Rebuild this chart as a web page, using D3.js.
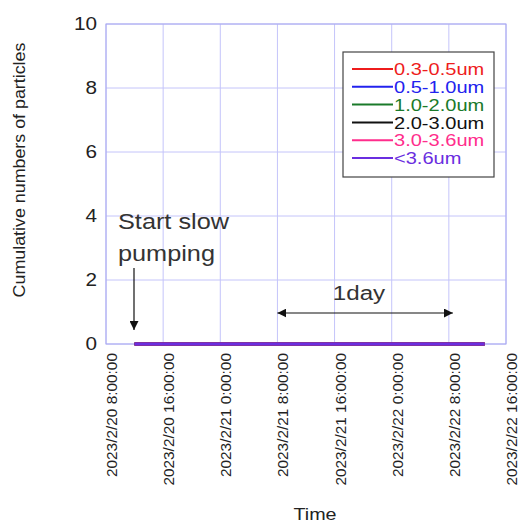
<!DOCTYPE html>
<html>
<head>
<meta charset="utf-8">
<script src="https://cdn.jsdelivr.net/npm/d3@7"></script>
<style>
  body { margin: 0; background: #fff; }
  text { font-family: "Liberation Sans", Arial, sans-serif; }
</style>
</head>
<body>
<div id="chart"></div>
<script>
// particle size bins and their colours
const seriesNames = ["0.3-0.5um", "0.5-1.0um", "1.0-2.0um", "2.0-3.0um", "3.0-3.6um", "<3.6um"];
const seriesColors = ["#ee1c1c", "#2222ee", "#1a7a2a", "#111111", "#ff2d8c", "#6a2ee0"];

// measurement times and cumulative counts (all zero)
const times = ["2023-02-20 12:00", "2023-02-21 00:00", "2023-02-21 12:00", "2023-02-22 00:00", "2023-02-22 13:00"];
const counts = [
  [0, 0, 0, 0, 0],
  [0, 0, 0, 0, 0],
  [0, 0, 0, 0, 0],
  [0, 0, 0, 0, 0],
  [0, 0, 0, 0, 0],
  [0, 0, 0, 0, 0]
];

const xDomain = ["2023-02-20 08:00", "2023-02-22 16:00"];
const yTicks = [0, 2, 4, 6, 8, 10];

const parse = d3.timeParse("%Y-%m-%d %H:%M");
const fmt = d3.timeFormat("%Y/%-m/%-d %-H:%M:%S");

const width = 518, height = 524;
const margin = {top: 24, right: 12, bottom: 180, left: 106};

const svg = d3.select("#chart").append("svg")
    .attr("width", width).attr("height", height);

const x = d3.scaleTime()
    .domain(xDomain.map(parse))
    .range([margin.left, width - margin.right]);
const y = d3.scaleLinear()
    .domain([0, 10])
    .range([height - margin.bottom, margin.top]);

const gridColor = "#c4c4fa";
const ink = "#222";

// grid
const xTicks = d3.timeHour.every(8).range(x.domain()[0], d3.timeHour.offset(x.domain()[1], 1));
svg.append("g").selectAll("line")
    .data(xTicks).join("line")
    .attr("x1", d => x(d)).attr("x2", d => x(d))
    .attr("y1", y(10)).attr("y2", y(0))
    .attr("stroke", gridColor).attr("stroke-width", 1);
svg.append("g").selectAll("line")
    .data(yTicks).join("line")
    .attr("x1", x.range()[0]).attr("x2", x.range()[1])
    .attr("y1", d => y(d)).attr("y2", d => y(d))
    .attr("stroke", gridColor).attr("stroke-width", 1);
svg.append("rect")
    .attr("x", x.range()[0]).attr("y", y(10))
    .attr("width", x.range()[1] - x.range()[0]).attr("height", y(0) - y(10))
    .attr("fill", "none").attr("stroke", "#a8a8f0").attr("stroke-width", 1);

// y tick labels
svg.append("g").selectAll("text")
    .data(yTicks).join("text")
    .attr("transform", d => `translate(${margin.left - 9},${y(d)}) scale(1.15,1)`)
    .attr("dy", "0.36em").attr("text-anchor", "end")
    .attr("font-size", 18).attr("fill", ink)
    .text(d => d);

// x tick labels, rotated
svg.append("g").selectAll("text")
    .data(xTicks).join("text")
    .attr("transform", d => `translate(${x(d) + 11},${y(0) + 9}) rotate(-90) scale(1.1,1)`)
    .attr("text-anchor", "end")
    .attr("font-size", 14).attr("fill", ink)
    .text(d => fmt(d));

// axis titles
svg.append("text")
    .attr("transform", `translate(25,${170}) rotate(-90) scale(1.05,1)`)
    .attr("text-anchor", "middle").attr("font-size", 17).attr("fill", ink)
    .text("Cumulative numbers of particles");
svg.append("text")
    .attr("transform", "translate(315,520) scale(1.16,1)")
    .attr("text-anchor", "middle").attr("font-size", 17).attr("fill", ink)
    .text("Time");

// series lines
const line = d3.line()
    .x((d, i) => x(parse(times[i])))
    .y(d => y(d));
svg.append("g").selectAll("path")
    .data(counts).join("path")
    .attr("d", line)
    .attr("fill", "none")
    .attr("stroke", (d, i) => seriesColors[i])
    .attr("stroke-width", 3);

// legend
const lg = svg.append("g").attr("transform", "translate(343,52)");
lg.append("rect")
    .attr("width", 151).attr("height", 125)
    .attr("fill", "#fff").attr("stroke", "#444").attr("stroke-width", 1.2);
const item = lg.selectAll("g.item")
    .data(seriesNames).join("g")
    .attr("transform", (d, i) => `translate(0,${17 + i * 17.8})`);
item.append("line")
    .attr("x1", 9).attr("x2", 50)
    .attr("stroke", (d, i) => seriesColors[i]).attr("stroke-width", 2);
item.append("text")
    .attr("transform", "translate(51,0) scale(1.18,1)")
    .attr("dy", "0.36em")
    .attr("font-size", 17)
    .attr("fill", (d, i) => seriesColors[i])
    .text(d => d);

// annotations
const defs = svg.append("defs");
defs.append("marker")
    .attr("id", "ah").attr("viewBox", "0 0 10 10")
    .attr("refX", 10).attr("refY", 5)
    .attr("markerWidth", 9).attr("markerHeight", 9)
    .attr("markerUnits", "userSpaceOnUse")
    .attr("orient", "auto-start-reverse")
    .append("path").attr("d", "M0,0 L10,5 L0,10 z").attr("fill", "#111");

const ann = svg.append("g")
    .attr("font-family", "'Noto Sans CJK JP', 'Noto Sans', sans-serif")
    .attr("fill", "#333").attr("font-size", 22);
ann.append("text").attr("transform", "translate(118,229) scale(1.15,1)").text("Start slow");
ann.append("text").attr("transform", "translate(118,261) scale(1.15,1)").text("pumping");
ann.append("text").attr("transform", "translate(359,300) scale(1.15,1)")
    .attr("text-anchor", "middle").attr("font-size", 21).text("1day");

svg.append("line")
    .attr("x1", 134).attr("x2", 134).attr("y1", 268).attr("y2", 330)
    .attr("stroke", "#111").attr("stroke-width", 1.2)
    .attr("marker-end", "url(#ah)");
svg.append("line")
    .attr("x1", x(parse("2023-02-21 08:00"))).attr("x2", x(parse("2023-02-22 08:00")) + 4)
    .attr("y1", 313).attr("y2", 313)
    .attr("stroke", "#111").attr("stroke-width", 1.2)
    .attr("marker-start", "url(#ah)").attr("marker-end", "url(#ah)");
</script>
</body>
</html>
